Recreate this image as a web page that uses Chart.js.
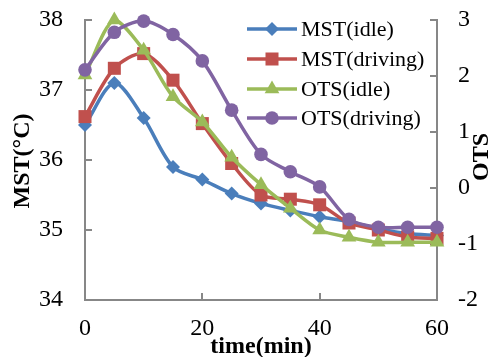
<!DOCTYPE html>
<html>
<head>
<meta charset="utf-8">
<script src="https://cdn.jsdelivr.net/npm/chart.js@4.4.1/dist/chart.umd.min.js"></script>
<style>
  html, body { margin: 0; padding: 0; background: #ffffff; }
  #wrap { width: 491px; height: 357px; position: relative; }
</style>
</head>
<body>
<div id="wrap"><canvas id="c" width="491" height="357"></canvas></div>
<script>
// Time points (min)
const timeMin = [0, 5, 10, 15, 20, 25, 30, 35, 40, 45, 50, 55, 60];

// Mean skin temperature (left axis, °C)
const mstIdle    = [36.50, 37.10, 36.60, 35.90, 35.72, 35.52, 35.38, 35.28, 35.19, 35.12, 35.02, 34.95, 34.92];
const mstDriving = [36.62, 37.31, 37.52, 37.14, 36.52, 35.95, 35.50, 35.44, 35.36, 35.10, 35.00, 34.90, 34.88];

// Overall thermal sensation (right axis)
const otsIdle    = [2.02, 3.00, 2.46, 1.63, 1.18, 0.55, 0.06, -0.36, -0.75, -0.88, -0.97, -0.97, -0.97];
const otsDriving = [2.11, 2.78, 2.98, 2.74, 2.27, 1.39, 0.60, 0.29, 0.02, -0.56, -0.70, -0.70, -0.70];

// Axis ticks
const xTicks = [0, 20, 40, 60];
const mstTicks = [34, 35, 36, 37, 38];
const otsTicks = [-2, -1, 0, 1, 2, 3];

const seriesNames = ['MST(idle)', 'MST(driving)', 'OTS(idle)', 'OTS(driving)'];

const SERIF = '"Liberation Serif", "Times New Roman", serif';
const AXIS_GREY = '#878787';

function pts(ys) { return timeMin.map((t, i) => ({ x: t, y: ys[i] })); }

function series(label, ys, axis, color, style, radius, order) {
  return {
    label, data: pts(ys), yAxisID: axis,
    borderColor: color, backgroundColor: color,
    pointBackgroundColor: color, pointBorderColor: color,
    pointStyle: style, pointRadius: radius, pointHoverRadius: radius,
    pointBorderWidth: 0,
    borderWidth: 3.5, tension: 0.3, clip: false, order
  };
}

const datasets = [
  series(seriesNames[0], mstIdle,    'yL', '#4A7EBB', 'rectRot',  7,   4),
  series(seriesNames[1], mstDriving, 'yL', '#C0504D', 'rect',     9.2, 3),
  series(seriesNames[2], otsIdle,    'yR', '#9BBB59', 'triangle', 8.5, 2),
  series(seriesNames[3], otsDriving, 'yR', '#8064A2', 'circle',   6.8, 1)
];

// Inward tick marks, axis titles and the in-plot legend
const decorations = {
  id: 'decorations',
  beforeDatasetsDraw(chart) {
    const { ctx, chartArea: a, scales } = chart;
    ctx.save();
    ctx.strokeStyle = AXIS_GREY;
    ctx.lineWidth = 2;
    const L = 7;
    ctx.beginPath();
    mstTicks.forEach(v => { const y = Math.round(scales.yL.getPixelForValue(v)); ctx.moveTo(a.left, y); ctx.lineTo(a.left + L, y); });
    otsTicks.forEach(v => { const y = Math.round(scales.yR.getPixelForValue(v)); ctx.moveTo(a.right, y); ctx.lineTo(a.right - L, y); });
    xTicks.forEach(v => { const x = Math.round(scales.x.getPixelForValue(v)); ctx.moveTo(x, a.bottom); ctx.lineTo(x, a.bottom - L); });
    ctx.stroke();
    ctx.restore();
  },
  afterDraw(chart) {
    const { ctx, chartArea: a } = chart;
    ctx.save();
    ctx.fillStyle = '#000';
    ctx.font = 'bold 24px ' + SERIF;
    ctx.textAlign = 'center';
    ctx.textBaseline = 'middle';
    // x title
    ctx.fillText('time(min)', (a.left + a.right) / 2, 347);
    // left title
    ctx.save(); ctx.translate(23, 161); ctx.rotate(-Math.PI / 2); ctx.fillText('MST(°C)', 0, 0); ctx.restore();
    // right title
    ctx.save(); ctx.translate(482, 157); ctx.rotate(-Math.PI / 2); ctx.fillText('OTS', 0, 0); ctx.restore();

    // legend
    const rows = [29, 59, 89, 118];
    const x0 = 247, x1 = 297;
    ctx.font = '22px ' + SERIF;
    ctx.textAlign = 'left';
    chart.data.datasets.forEach((ds, i) => {
      const y = rows[i];
      ctx.strokeStyle = ds.borderColor;
      ctx.lineWidth = ds.borderWidth;
      ctx.beginPath(); ctx.moveTo(x0, y); ctx.lineTo(x1, y); ctx.stroke();
      ctx.fillStyle = ds.backgroundColor;
      Chart.helpers.drawPoint(ctx, { pointStyle: ds.pointStyle, radius: ds.pointRadius, borderWidth: 0 }, (x0 + x1) / 2, y);
      ctx.fillStyle = '#000';
      ctx.fillText(ds.label, 301, y + 1);
    });
    ctx.restore();
  }
};

new Chart(document.getElementById('c'), {
  type: 'line',
  data: { datasets },
  options: {
    responsive: false,
    animation: false,
    devicePixelRatio: 1,
    layout: { padding: { top: 20, left: 0, right: 0, bottom: 0 } },
    plugins: { legend: { display: false }, tooltip: { enabled: false } },
    scales: {
      x: {
        type: 'linear', min: 0, max: 60,
        afterBuildTicks: s => { s.ticks = xTicks.map(v => ({ value: v })); },
        afterFit: s => { s.height = 57; s.paddingLeft = 0; s.paddingRight = 0; },
        grid: { display: false, drawTicks: false },
        border: { display: true, color: AXIS_GREY, width: 2 },
        ticks: { color: '#000', font: { family: SERIF, size: 24 }, padding: 14, maxRotation: 0 }
      },
      yL: {
        type: 'linear', position: 'left', min: 34, max: 38,
        afterBuildTicks: s => { s.ticks = mstTicks.map(v => ({ value: v })); },
        afterFit: s => { s.width = 85; s.paddingTop = 0; s.paddingBottom = 0; },
        grid: { display: false, drawTicks: false },
        border: { display: true, color: AXIS_GREY, width: 2 },
        ticks: { color: '#000', font: { family: SERIF, size: 24 }, padding: 22 }
      },
      yR: {
        type: 'linear', position: 'right', min: -2, max: 3,
        afterBuildTicks: s => { s.ticks = otsTicks.map(v => ({ value: v })); },
        afterFit: s => { s.width = 54; s.paddingTop = 0; s.paddingBottom = 0; },
        grid: { display: false, drawTicks: false },
        border: { display: true, color: AXIS_GREY, width: 2 },
        ticks: { color: '#000', font: { family: SERIF, size: 24 }, padding: 21 }
      }
    }
  },
  plugins: [decorations]
});
</script>
</body>
</html>
